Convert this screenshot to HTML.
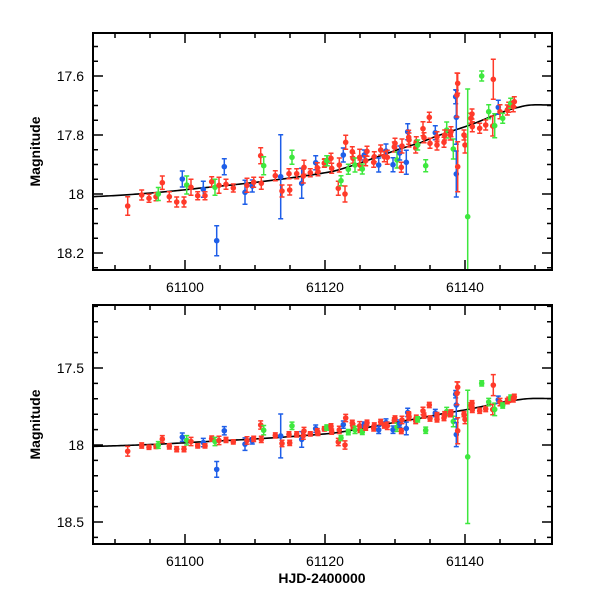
<!DOCTYPE html>
<html><head><meta charset="utf-8"><style>
html,body{margin:0;padding:0;background:#fff;}
svg text{font-family:"Liberation Sans",sans-serif;}
</style></head><body>
<svg id="s" width="600" height="600" xmlns="http://www.w3.org/2000/svg"></svg>
<script>
const S=document.getElementById('s');
const NS='http://www.w3.org/2000/svg';
function el(t,a,txt){const e=document.createElementNS(NS,t);for(const k in a)e.setAttribute(k,a[k]);if(txt!==undefined)e.textContent=txt;S.appendChild(e);return e;}
const X0=93,X1=552;
const dx=d=>185+(d-61100)*7;
// panel1 y->mag
const m1=y=>17.6+(y-76)*0.2/59;
const P1={top:33,bot:270,y:m=>76+(m-17.6)*59/0.2};
const P2={top:305,bot:544,y:m=>368+(m-17.5)*77/0.5};
const C={r:'#ff3a2a',b:'#1e5ee8',g:'#3ee83e'};
// x_px, y_px (panel1), err_px, color
const pts=[
['r',127.7,206,9.3],['r',141.7,195,5],['r',149,198.3,4],['r',156,196.7,4],['g',158.3,194,6.5],['r',162.3,182.7,6.7],
['b',182.3,179,8],['g',186.7,185,9],['r',191,187.3,8],['r',169.3,196.7,5],['r',176.7,202,5],['r',184,202,5],
['r',197.7,195.7,4],['b',203.3,189.3,8],['r',205,195.7,4],['r',211.7,181.7,5],['g',215,187.3,8],['b',216.7,240.7,15],
['r',219,185.3,8],['b',224.3,166.7,8],['r',226,184.3,5],['r',233.3,188,4],['b',245,192.3,12],['r',247,185.3,7],
['b',252.3,186,6],['r',253.7,182.3,5],['r',260.7,155.7,8],['g',263.7,165.7,9],['r',261.3,183.3,6],['r',275.3,175.7,5],
['b',280.7,176.7,42],['r',282,191,6],['r',289.7,190,5],['g',292,157.3,7],['r',289,173.7,5],['r',296.7,173.7,5],
['b',301.7,183.3,15],['r',303.3,176,7],['r',304,167.3,7],['r',310.3,172.7,4],['b',315.7,162.7,7],['r',317.3,167.7,5],
['r',318,171.7,4],['r',324.7,162.7,4],['g',327.3,160.7,5],
['r',324.3,163.3,4],['g',326.7,160.7,5],['r',331,158.3,5],['r',331.7,168.3,5],['r',338.3,188.3,7],['g',341,180.7,5],
['r',339.3,165,7],['r',345,194,8],['b',343.3,155,7],['r',345.7,142.3,7],['g',348.3,169.3,5],['r',352.3,151.7,5],
['r',353,158.3,5],['g',355,165,7],['r',359.7,157.3,8],['r',360,165,5],['g',362.3,169,5],['b',364.3,155,5],
['r',365.7,160.7,5],['r',367,151.3,5],['r',373.7,162.3,5],['r',374.3,156.7,5],['b',378.7,165,7],['r',380.7,150,5],
['b',386,151,7],['r',384.3,156.7,5],['r',387.3,157.3,7],['b',393,164.7,7],['r',395,143.3,5],['r',394.3,147,5],
['g',397,160,8],['b',399.7,153,7],['r',401.3,167.3,5],['r',402,146,7],['b',406.3,162.3,12],['b',407.7,131.7,8],
['r',409,140,7],['r',408.7,137.3,7],['r',415.7,148,5],['r',416.3,141.7,5],['g',417.7,145,5],['r',423,128.7,7],
['r',424,137.7,5],['g',425.7,165.7,6],['r',429.3,117.3,5],['r',430,143.3,5],['b',435.3,132.7,7],['r',437,136.7,5],
['r',437,145,5],['g',446.7,130,8],['r',444,142.3,5],['r',444.7,135,5],['g',453.3,149,10],['r',451,131.7,5],
['r',450.3,135,5],['b',455.7,96.7,7],['b',456.3,117.3,27],['b',456.3,174,23],['r',457,95,22],['r',457.7,166.7,25],
['r',457.7,83.3,10],['r',464,135,5],['r',465,145,8],['g',467.7,216.7,112],['r',471,118.3,5],['r',472,114,5],
['r',472.3,126.7,5],['r',479.7,128.3,5],['r',485.7,125,5],['g',481.7,76,5],['r',493.3,79.3,20],['g',488.7,111.7,7],
['r',492.7,126,10],['g',494.7,125.7,12],['b',498.3,107.3,7],['r',500,111.7,7],['g',502.7,118.3,5],['r',507.3,110,5],
['r',508.7,107.3,5],['g',510.7,103.3,5],['r',514.3,101.7,5],['r',513.3,106.7,5]
];
const errMag=e=>e*0.2/59;
// curve control in mag
const cx=[86,93,200,332,420,470,520,552,560],cy=[18.012,18.009,17.98,17.924,17.827,17.766,17.705,17.698,17.698];
function curve(x){for(let i=0;i<cx.length-1;i++){if(x<=cx[i+1]){const t=(x-cx[i])/(cx[i+1]-cx[i]);
const p0=cy[Math.max(i-1,0)],p1=cy[i],p2=cy[i+1],p3=cy[Math.min(i+2,cy.length-1)];
return 0.5*((2*p1)+(-p0+p2)*t+(2*p0-5*p1+4*p2-p3)*t*t+(-p0+3*p1-3*p2+p3)*t*t*t);}}return cy[cy.length-1];}
function panel(P,id,majors,minorStep,fmt){
  el('clipPath',{id:id}).appendChild((()=>{const r=document.createElementNS(NS,'rect');r.setAttribute('x',X0);r.setAttribute('y',P.top);r.setAttribute('width',X1-X0);r.setAttribute('height',P.bot-P.top);return r;})());
  const g=el('g',{'clip-path':'url(#'+id+')'});
  function add(t,a){const e=document.createElementNS(NS,t);for(const k in a)e.setAttribute(k,a[k]);g.appendChild(e);}
  let d='';for(let x=X0;x<=X1;x+=2){d+=(x==X0?'M':'L')+x+' '+P.y(curve(x)).toFixed(2);}
  add('path',{d:d,fill:'none',stroke:'#000','stroke-width':1.6});
  for(const p of pts){const m=m1(p[2]),em=errMag(p[3])*(p[1]>466&&p[1]<469&&p[3]>100?1.14:1);
    const y=P.y(m),y1=P.y(m-em),y2=P.y(m+em),col=C[p[0]];
    add('path',{d:`M${p[1]} ${y1}V${y2}M${p[1]-2.5} ${y1}h5M${p[1]-2.5} ${y2}h5`,stroke:col,'stroke-width':1.5,fill:'none'});
    add('circle',{cx:p[1],cy:y,r:2.8,fill:col});}
  // frame
  el('rect',{x:X0,y:P.top,width:X1-X0,height:P.bot-P.top,fill:'none',stroke:'#000','stroke-width':2});
  let t='';
  for(let d=61090;d<=61150;d+=5){const x=dx(d);const L=(d%20==0)?10:5;t+=`M${x} ${P.bot}v${-L}M${x} ${P.top}v${L}`;}
  const mn=Math.ceil(P.mmin/minorStep);
  for(let k=mn;k*minorStep<=P.mmax;k++){const m=k*minorStep,y=P.y(m);
    const isM=majors.some(v=>Math.abs(v-m)<1e-6);const L=isM?10:5;t+=`M${X0} ${y}h${L}M${X1} ${y}h${-L}`;}
  el('path',{d:t,stroke:'#000','stroke-width':1.5,fill:'none'});
  for(const v of majors)el('text',{x:84,y:P.y(v)+5,'text-anchor':'end','font-size':14},fmt(v));
  for(const d of [61100,61120,61140])el('text',{x:dx(d),y:P.bot+22,'text-anchor':'middle','font-size':14},String(d));
  el('text',{transform:`translate(40 ${(P.top+P.bot)/2}) rotate(-90)`,'text-anchor':'middle','font-size':14,'font-weight':'bold'},'Magnitude');
}
P1.mmin=17.46;P1.mmax=18.25;P2.mmin=17.1;P2.mmax=18.64;
panel(P1,'c1',[17.6,17.8,18,18.2],0.05,v=>v==18?'18':v.toFixed(1));
panel(P2,'c2',[17.5,18,18.5],0.1,v=>v==18?'18':v.toFixed(1));
el('text',{x:322,y:583,'text-anchor':'middle','font-size':14,'font-weight':'bold'},'HJD-2400000');
</script>
</body></html>
